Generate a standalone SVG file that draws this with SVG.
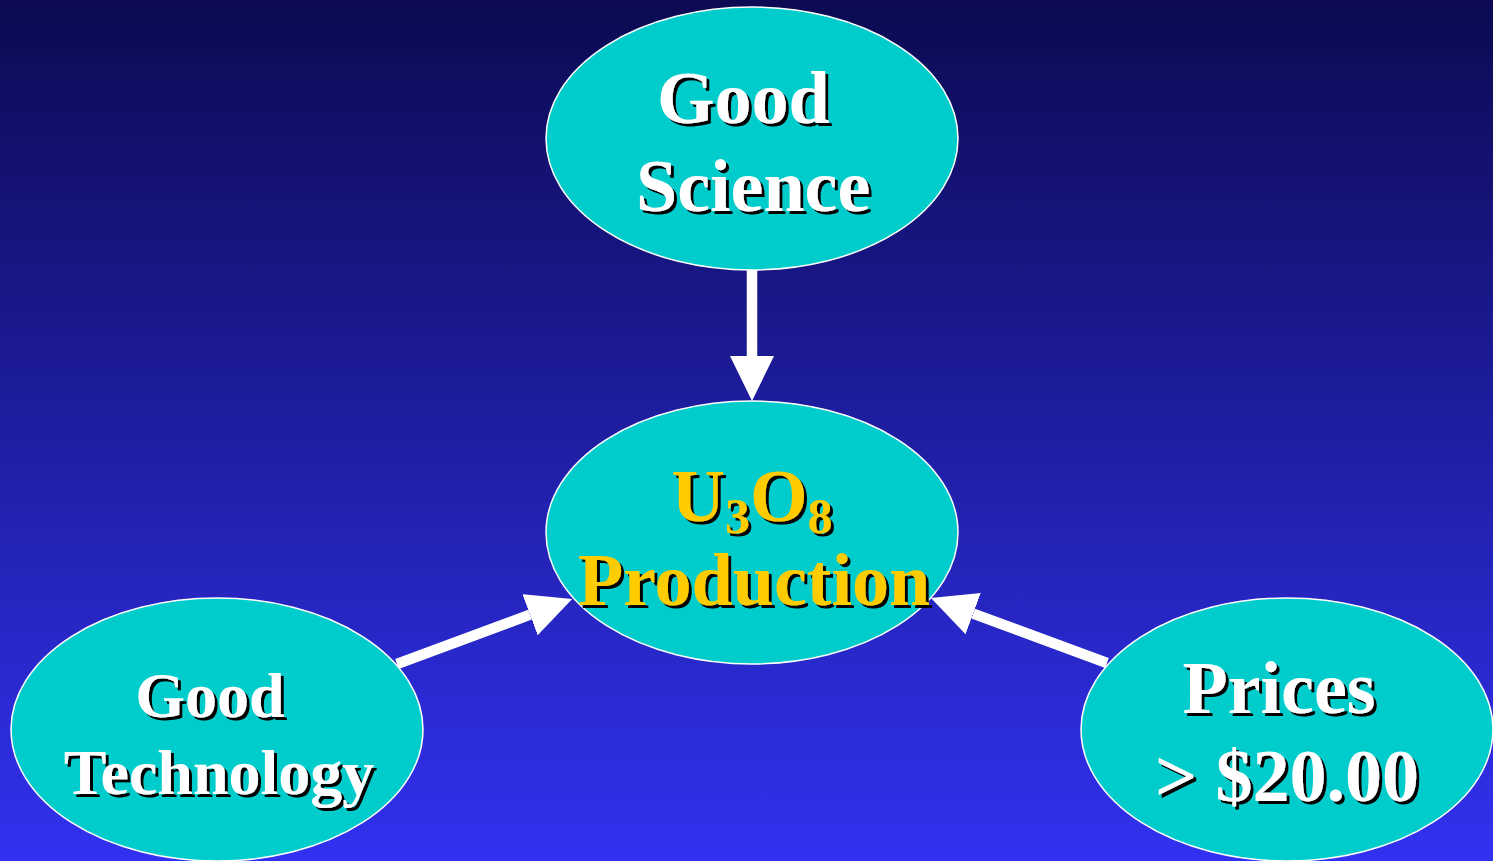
<svg xmlns="http://www.w3.org/2000/svg" width="1493" height="861" viewBox="0 0 1493 861">
<defs>
<linearGradient id="bg" x1="0" y1="0" x2="0" y2="1">
<stop offset="0" stop-color="#0b0a52"/>
<stop offset="1" stop-color="#3231f0"/>
</linearGradient>
<filter id="sh" x="-10%" y="-10%" width="120%" height="130%">
<feDropShadow dx="3" dy="3" stdDeviation="0" flood-color="#000" flood-opacity="1"/>
</filter>
<marker id="ah" markerUnits="userSpaceOnUse" markerWidth="46" markerHeight="46" refX="0" refY="22" orient="auto" viewBox="0 0 46 46">
<path d="M0,0 L45,22 L0,44 Z" fill="#fff"/>
</marker>
<style>
.node ellipse{fill:#00cccc;stroke:#fff;stroke-width:1.5}
.lbl{font-family:"Liberation Serif","Times New Roman",serif;font-weight:bold;fill:#fff;filter:url(#sh)}
.y{fill:#ffcc00}
.conn line{stroke:#fff;stroke-width:10.5}
</style>
</defs>
<rect width="1493" height="861" fill="url(#bg)"/>
<g id="connectors" class="conn">
<line x1="752" y1="270" x2="752" y2="356" marker-end="url(#ah)"/>
<line x1="397" y1="664" x2="530" y2="614.7" marker-end="url(#ah)"/>
<line x1="1107" y1="663" x2="973.2" y2="613.6" marker-end="url(#ah)"/>
</g>
<g id="science" class="node">
<ellipse cx="752" cy="138.5" rx="206" ry="131.5"/>
<text class="lbl" font-size="74" x="657" y="123">Good</text>
<text class="lbl" font-size="74" x="636" y="211">Science</text>
</g>
<g id="production" class="node">
<ellipse cx="752" cy="532.5" rx="206" ry="131.5"/>
<text class="lbl y" font-size="74" x="752" y="521" text-anchor="middle">U<tspan font-size="50" dy="12">3</tspan><tspan dy="-12">O</tspan><tspan font-size="50" dy="12">8</tspan></text>
<text class="lbl y" font-size="74" x="754" y="605" text-anchor="middle">Production</text>
</g>
<g id="technology" class="node">
<ellipse cx="217" cy="729.5" rx="206" ry="131.5"/>
<text class="lbl" font-size="64" x="210" y="717" text-anchor="middle">Good</text>
<text class="lbl" font-size="64" x="219" y="794" text-anchor="middle">Technology</text>
</g>
<g id="prices" class="node">
<ellipse cx="1287" cy="729.5" rx="206" ry="131.5"/>
<text class="lbl" font-size="74" x="1279" y="713" text-anchor="middle">Prices</text>
<text class="lbl" font-size="74" x="1287" y="801" text-anchor="middle">&gt; $20.00</text>
</g>
</svg>
